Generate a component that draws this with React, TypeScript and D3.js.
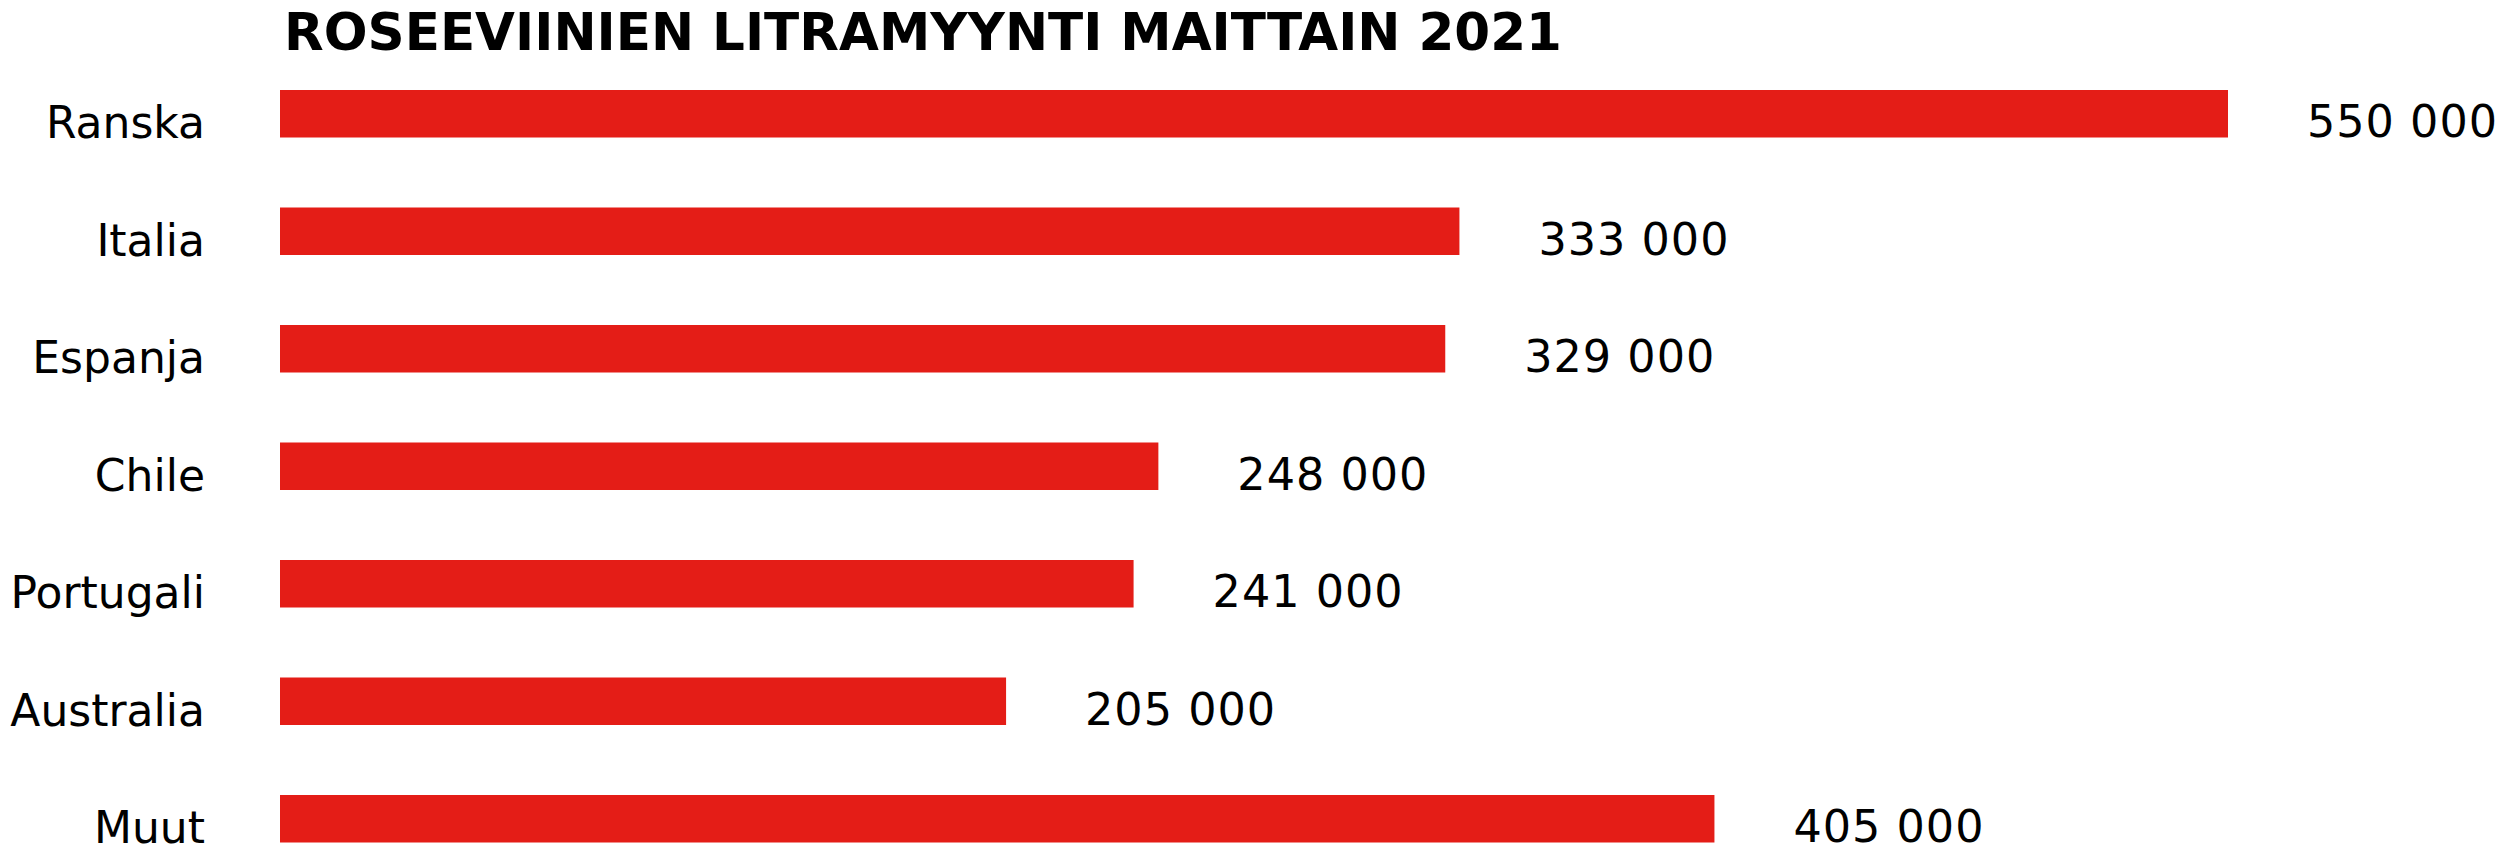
import React from "react";
import * as d3 from "d3";

const TITLE = "ROSEEVIINIEN LITRAMYYNTI MAITTAIN 2021";
const countries = ["Ranska", "Italia", "Espanja", "Chile", "Portugali", "Australia", "Muut"];
const litres = [550000, 333000, 329000, 248000, 241000, 205000, 405000];

const W = 2500;
const H = 855;
const BAR_COLOR = "#e41d17";
const FONT = "'DejaVu Sans', sans-serif";

// Finnish-style thousands grouping with a space: 550 000
const fmt = (v: number) => d3.format(",")(v).replace(/,/g, " ");

export default function App() {
  const x = d3.scaleLinear().domain([0, 550000]).range([280, 2228]);
  const y = d3
    .scaleBand<string>()
    .domain(countries)
    .range([90, 842.5])
    .paddingInner(70 / 117.5)
    .paddingOuter(0);
  const bw = y.bandwidth();

  return (
    <svg
      width={W}
      height={H}
      viewBox={`0 0 ${W} ${H}`}
      style={{ position: "absolute", left: 0, top: 0, background: "#fff" }}
    >
      <text
        x={284}
        y={50}
        fontFamily={FONT}
        fontWeight="bold"
        fontSize={51}
        textLength={1278}
        lengthAdjust="spacingAndGlyphs"
        fill="#000"
      >
        {TITLE}
      </text>
      {countries.map((c, i) => {
        const top = y(c)!;
        const end = x(litres[i]);
        return (
          <g key={c}>
            <rect x={x(0)} y={top} width={end - x(0)} height={bw} fill={BAR_COLOR} />
            <text
              x={205}
              y={top + bw + 0.5}
              textAnchor="end"
              fontFamily={FONT}
              fontSize={44}
              fill="#000"
            >
              {c}
            </text>
            <text
              x={end + 79}
              y={top + bw - 0.5}
              fontFamily={FONT}
              fontSize={44.5}
              letterSpacing={1}
              fill="#000"
            >
              {fmt(litres[i])}
            </text>
          </g>
        );
      })}
    </svg>
  );
}
